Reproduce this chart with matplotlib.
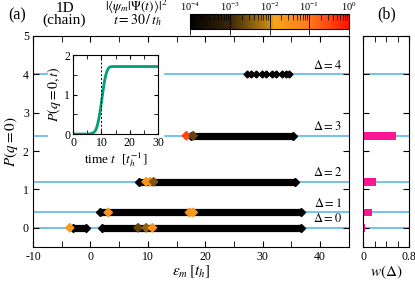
import numpy as np
import matplotlib
matplotlib.use("Agg")
import matplotlib.pyplot as plt
from matplotlib.colors import LinearSegmentedColormap, LogNorm
from matplotlib.patches import Rectangle

plt.rcParams['font.family'] = ['Liberation Serif', 'DejaVu Serif']
plt.rcParams['mathtext.fontset'] = 'stix'
plt.rcParams['font.size'] = 8.5
plt.rcParams['axes.unicode_minus'] = False

# Δ levels and P(q=0) of each sector
deltas = [0, 1, 2, 3, 4]
p_levels = [0.0, 0.4, 1.2, 2.4, 4.0]
w_delta = [0.04, 0.16, 0.23, 0.57, 0.0]

# continuous bands of eigenstates (start, end energy) per sector
band_level = [0.0, 0.0, 0.4, 1.2, 2.4]
band_start = [-3.1, 2.0, 1.7, 8.5, 17.5]
band_end = [-0.7, 36.6, 36.6, 35.7, 35.2]

# isolated eigenstates in the Δ=4 sector
eps_d4 = [27.2, 28.05, 28.9, 29.8, 30.6, 31.6, 32.4, 33.3, 34.1, 34.5]

# eigenstates with visible overlap |<psi_m|Psi(t)>|^2
hi_eps = [-3.6, 8.3, 9.7, 10.8, 3.1, 17.25, 17.9, 9.7, 10.4, 11.0, 16.7, 17.9]
hi_level = [0.0, 0.0, 0.0, 0.0, 0.4, 0.4, 0.4, 1.2, 1.2, 1.2, 2.4, 2.4]
hi_overlap = [0.02, 0.002, 0.004, 0.03, 0.03, 0.03, 0.02, 0.03, 0.03, 0.003, 0.3, 0.002]

# inset: P(q=0,t)
t_vals = [0, 5, 6.5, 7.5, 8, 8.5, 9, 9.5, 10, 10.5, 11, 11.5, 12, 12.5, 13, 14, 16, 30]
p_vals = [0, 0, 0.01, 0.05, 0.1, 0.2, 0.35, 0.55, 0.8, 1.05, 1.3, 1.48, 1.6, 1.67, 1.7, 1.71, 1.71, 1.71]

line_blue = '#5cb8e8'
cmap = LinearSegmentedColormap.from_list('ov', [
    (0.0, '#000000'), (0.25, '#3a260a'), (0.5, '#c88a12'),
    (0.53, '#f7a41c'), (0.75, '#ff7a1e'), (1.0, '#ff1400')])
norm = LogNorm(1e-4, 1e0)

fig = plt.figure(figsize=(4.15, 2.81), dpi=100)
ax = fig.add_axes([0.0795, 0.121, 0.761, 0.751])
axb = fig.add_axes([0.875, 0.121, 0.111, 0.751])

for p in p_levels:
    ax.axhline(p, color=line_blue, lw=1.2, zorder=1)
    axb.axhline(p, color=line_blue, lw=1.2, zorder=1)

for lv, a, b in zip(band_level, band_start, band_end):
    ax.plot([a, b], [lv, lv], color='black', lw=5.2, solid_capstyle='butt', zorder=2)
    ax.plot([a, b], [lv, lv], 'D', color='black', ms=3.7, zorder=2)
ax.plot(eps_d4, [4.0] * len(eps_d4), 'D', color='black', ms=3.5, zorder=2)
ax.scatter(hi_eps, hi_level, c=hi_overlap, cmap=cmap, norm=norm, marker='D', s=18, zorder=3)

for d, p in zip(deltas, p_levels):
    ax.text(43.8, p + 0.07, r'$\Delta=%d$' % d, ha='right', va='bottom', fontsize=9)

ax.set_xlim(-10, 45)
ax.set_ylim(-0.5, 5)
ax.set_xticks(np.arange(-10, 41, 10))
ax.set_xticks(np.arange(-5, 45, 5), minor=True)
ax.set_yticks(range(6))
ax.tick_params(which='both', direction='in', top=True, right=True, length=4, pad=3)
ax.set_xlabel(r'$\varepsilon_m\,[t_h]$', fontsize=11, labelpad=0)
ax.set_ylabel(r'$P(q=0)$', fontsize=11, labelpad=2)

# white box behind inset
ax.add_patch(Rectangle((48 / 415, 1 - 162 / 281), 115 / 415, 112 / 281,
                       transform=fig.transFigure, color='white', zorder=4, clip_on=False))

axb.barh(p_levels, w_delta, height=0.2, color='#ff1493', zorder=2)
axb.set_xlim(0, 0.8)
axb.set_ylim(-0.5, 5)
axb.set_xticks([0, 0.8])
axb.set_xticklabels(['0', '0.8'])
axb.set_xticks([0.2, 0.4, 0.6], minor=True)
axb.set_yticks(range(6))
axb.set_yticklabels([])
axb.tick_params(which='both', direction='in', top=True, right=True, length=4, pad=3)
axb.set_xlabel(r'$w(\Delta)$', fontsize=11, labelpad=0)

ins = fig.add_axes([0.176, 0.523, 0.205, 0.281])
ins.set_zorder(5)
ins.plot(t_vals, p_vals, color='#00a077', lw=2)
ins.axvline(10, color='black', ls=(0, (2, 2)), lw=0.7)
ins.set_xlim(0, 30)
ins.set_ylim(0, 2)
ins.set_xticks([0, 10, 20, 30])
ins.set_xticks([5, 15, 25], minor=True)
ins.set_yticks([0, 1, 2])
ins.set_yticks([0.5, 1.5], minor=True)
ins.tick_params(which='both', direction='in', top=True, right=True, length=3, labelsize=8.5, pad=2)
ins.set_xlabel(r'time $t$  [$t_h^{-1}$]', fontsize=9.5, labelpad=1)
ins.set_ylabel(r'$P(q=0,t)$', fontsize=10, labelpad=1)

cax = fig.add_axes([190 / 415, 1 - 29 / 281, 159 / 415, 15 / 281])
sm = matplotlib.cm.ScalarMappable(norm=norm, cmap=cmap)
cb = fig.colorbar(sm, cax=cax, orientation='horizontal')
cb.ax.xaxis.set_ticks_position('top')
cb.ax.tick_params(which='major', direction='in', length=15, width=0.6, labelsize=7.5, pad=0.5)
cb.ax.tick_params(which='minor', direction='in', length=4, width=0.5)

fig.text(17 / 415, 1 - 15 / 281, '(a)', fontsize=11.5, ha='center', va='center')
fig.text(64.5 / 415, 1 - 8 / 281, '1D', fontsize=11, ha='center', va='center')
fig.text(64 / 415, 1 - 20 / 281, '(chain)', fontsize=11, ha='center', va='center')
fig.text(136 / 415, 1 - 11.5 / 281, r'$|\langle\psi_m|\Psi(t)\rangle|^2$', fontsize=9.5,
         ha='center', va='baseline')
fig.text(137 / 415, 1 - 24.5 / 281, r'$t=30\,/\,t_h$', fontsize=10, ha='center', va='baseline')
fig.text(387 / 415, 1 - 14 / 281, '(b)', fontsize=11.5, ha='center', va='center')

fig.savefig('out.png', dpi=100)
